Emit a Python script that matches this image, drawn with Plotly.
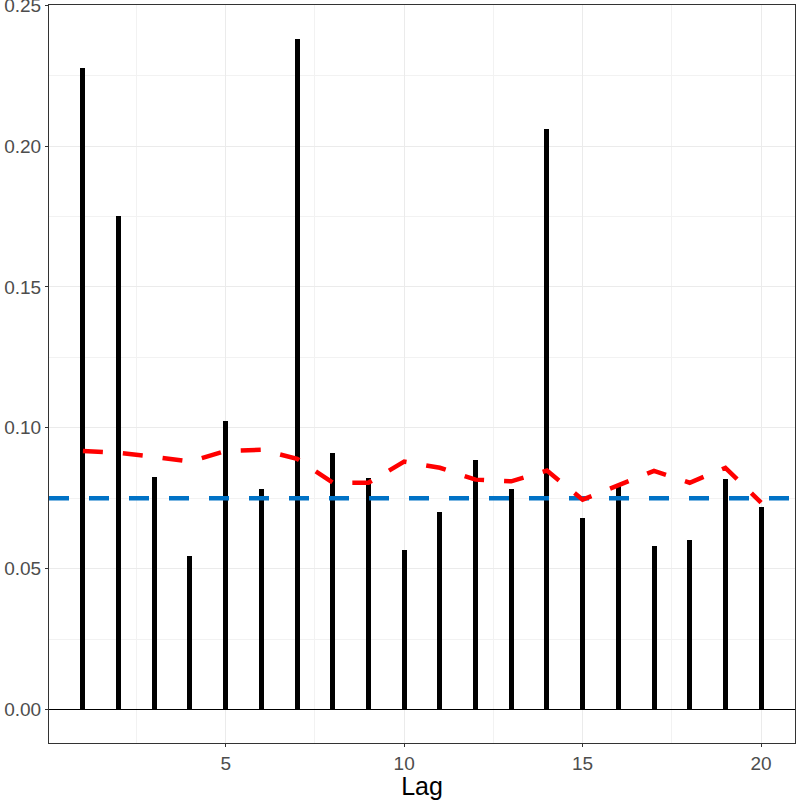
import plotly.graph_objects as go

# ACF-style lag data
lags = list(range(1, 21))
acf_vals = [0.2277, 0.1752, 0.0826, 0.0546, 0.1025, 0.0784, 0.2380, 0.0911, 0.0823, 0.0567,
            0.0702, 0.0887, 0.0784, 0.2060, 0.0681, 0.0801, 0.0582, 0.0600, 0.0819, 0.0720]
red_vals = [0.0918, 0.0911, 0.0897, 0.0880, 0.0918, 0.0922, 0.0890, 0.0805, 0.0805, 0.0880,
            0.0858, 0.0816, 0.0810, 0.0848, 0.0745, 0.0798, 0.0847, 0.0805, 0.0858, 0.0734]
threshold = 0.075

fig = go.Figure()
fig.add_trace(go.Bar(x=lags, y=acf_vals, width=0.14, marker=dict(color="black", line=dict(width=0)),
                     showlegend=False))
fig.add_trace(go.Scatter(x=[0.05, 20.95], y=[threshold, threshold], mode="lines",
                         line=dict(color="#0072C6", width=4.5, dash="20px,20px"), showlegend=False))
fig.add_trace(go.Scatter(x=lags, y=red_vals, mode="lines",
                         line=dict(color="#FF0000", width=4.5, dash="20px,20px"), showlegend=False))

fig.update_xaxes(range=[0.05, 20.95], tickvals=[5, 10, 15, 20], ticks="outside", ticklen=3,
                 tickcolor="#333333", showline=True, linecolor="#333333", linewidth=1, mirror=True,
                 showgrid=True, gridcolor="#EBEBEB", gridwidth=1, zeroline=False, automargin=False,
                 minor=dict(tickvals=[2.5, 7.5, 12.5, 17.5], showgrid=True, gridcolor="#F2F2F2", gridwidth=0.6),
                 tickfont=dict(size=19, color="#4D4D4D"), ticklabeloverflow="allow",
                 title=dict(text="Lag", font=dict(size=25, color="black"), standoff=4))
fig.update_yaxes(range=[-0.0119, 0.2501], tickvals=[0, 0.05, 0.10, 0.15, 0.20, 0.25],
                 ticktext=["0.00", "0.05", "0.10", "0.15", "0.20", "0.25"],
                 ticks="outside", ticklen=3, tickcolor="#333333", showline=True, linecolor="#333333",
                 linewidth=1, mirror=True, showgrid=True, gridcolor="#EBEBEB", gridwidth=1,
                 zeroline=True, zerolinecolor="black", zerolinewidth=1, automargin=False,
                 minor=dict(dtick=0.025, showgrid=True, gridcolor="#F2F2F2", gridwidth=0.6),
                 tickfont=dict(size=19, color="#4D4D4D"), ticklabeloverflow="allow")

fig.update_layout(width=800, height=800, plot_bgcolor="white", paper_bgcolor="white",
                  font=dict(family="Liberation Sans, Arial"),
                  margin=dict(l=49, r=5, t=5, b=57), bargap=0)

# page body has a default 8px margin, drop it so the figure sits at the corner
fig.write_html("out.html", config={"displayModeBar": False},
               post_script="document.body.style.margin='0';")
